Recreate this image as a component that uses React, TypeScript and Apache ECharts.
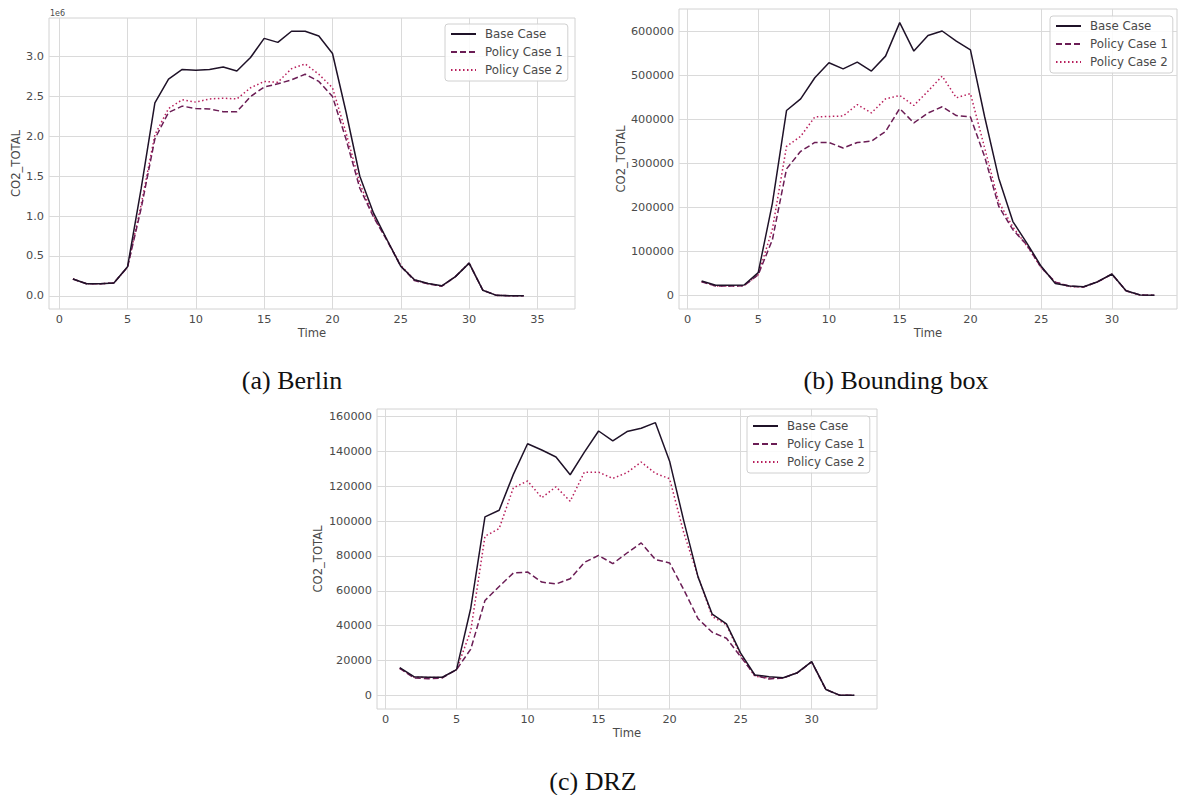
import React, { useEffect, useRef } from "react";
import * as echarts from "echarts";

// ---------- DATA ----------
const seriesNames = ["Base Case", "Policy Case 1", "Policy Case 2"];

const timeBerlin = [1, 2, 3, 4, 5, 6, 7, 8, 9, 10, 11, 12, 13, 14, 15, 16, 17, 18, 19, 20, 21, 22, 23, 24, 25, 26, 27, 28, 29, 30, 31, 32, 33, 34];
const berlinBase = [210000, 150000, 150000, 160000, 365000, 1350000, 2420000, 2720000, 2840000, 2830000, 2840000, 2870000, 2820000, 2990000, 3230000, 3180000, 3320000, 3320000, 3260000, 3040000, 2300000, 1500000, 1040000, 700000, 370000, 200000, 155000, 125000, 240000, 410000, 70000, 5000, 0, 0];
const berlinPolicy1 = [210000, 150000, 150000, 160000, 360000, 1100000, 1970000, 2300000, 2380000, 2350000, 2345000, 2310000, 2310000, 2500000, 2620000, 2660000, 2710000, 2780000, 2690000, 2500000, 1960000, 1350000, 990000, 690000, 370000, 190000, 150000, 120000, 240000, 410000, 70000, 5000, 0, 0];
const berlinPolicy2 = [210000, 150000, 150000, 160000, 360000, 1150000, 2020000, 2350000, 2460000, 2430000, 2470000, 2480000, 2470000, 2610000, 2690000, 2680000, 2850000, 2910000, 2780000, 2610000, 2040000, 1410000, 1000000, 700000, 380000, 200000, 150000, 120000, 240000, 410000, 70000, 5000, 0, 0];

const timeBox = [1, 2, 3, 4, 5, 6, 7, 8, 9, 10, 11, 12, 13, 14, 15, 16, 17, 18, 19, 20, 21, 22, 23, 24, 25, 26, 27, 28, 29, 30, 31, 32, 33];
const boxBase = [32600, 22800, 22800, 23500, 51600, 209000, 419500, 446000, 494000, 528000, 514000, 529500, 509000, 543000, 619000, 554500, 590000, 600000, 577000, 557000, 406000, 266000, 167500, 118000, 66000, 27000, 21000, 19600, 31000, 48500, 10500, 700, 0];
const boxPolicy1 = [31000, 21000, 21000, 22000, 47000, 126000, 287000, 327000, 347000, 347000, 334600, 347000, 350000, 372000, 424000, 391500, 414000, 428000, 408000, 405000, 315000, 202000, 149000, 114000, 63000, 30000, 21000, 19000, 31000, 48000, 10500, 1000, 0];
const boxPolicy2 = [31000, 21000, 21000, 22000, 47000, 150000, 338000, 361000, 405000, 406000, 407000, 433000, 414000, 446000, 453700, 431000, 463500, 497600, 448400, 458000, 335000, 212000, 155000, 112000, 63000, 30000, 20000, 19000, 31000, 48000, 10000, 500, 0];

const timeDrz = [1, 2, 3, 4, 5, 6, 7, 8, 9, 10, 11, 12, 13, 14, 15, 16, 17, 18, 19, 20, 21, 22, 23, 24, 25, 26, 27, 28, 29, 30, 31, 32, 33];
const drzBase = [15900, 10700, 10400, 10400, 14800, 50000, 102400, 106200, 126800, 144400, 140800, 136800, 126600, 139600, 151700, 146000, 151400, 153300, 156500, 134400, 100000, 68000, 46600, 41000, 24200, 11700, 10700, 10100, 13000, 19400, 3400, 0, 0];
const drzPolicy1 = [15500, 10000, 9500, 10000, 14800, 26500, 54400, 62500, 70200, 70800, 65000, 63900, 66900, 76300, 80300, 75600, 81700, 87500, 77900, 76000, 60600, 44000, 36200, 32800, 22200, 11500, 9400, 10000, 13000, 19200, 3400, 0, 0];
const drzPolicy2 = [15500, 10500, 10200, 10300, 14800, 37000, 91300, 95700, 119100, 123000, 113400, 119700, 111400, 128100, 128100, 124500, 127800, 133900, 127400, 124300, 93200, 68300, 45200, 40500, 23000, 11000, 10000, 10000, 13000, 19300, 3400, 0, 0];

const xTicksBerlin = [0, 5, 10, 15, 20, 25, 30, 35];
const xTicksOther = [0, 5, 10, 15, 20, 25, 30];
const yTicksBerlin = [0, 500000, 1000000, 1500000, 2000000, 2500000, 3000000];
const yTicksBox = [0, 100000, 200000, 300000, 400000, 500000, 600000];
const yTicksDrz = [0, 20000, 40000, 60000, 80000, 100000, 120000, 140000, 160000];

const captions = ["(a) Berlin", "(b) Bounding box", "(c) DRZ"];

// ---------- STYLE ----------
const lineColors = ["#1f1228", "#6b1d55", "#b81f5c"];
const lineTypes: any[] = ["solid", [6, 3], [1.5, 2.5]];
const textColor = "#4a4a4a";
const gridColor = "#dadada";
const font = "DejaVu Sans";

function mplLimits(values: number[][]) {
  let lo = Infinity;
  let hi = -Infinity;
  values.forEach((arr) => arr.forEach((v) => { if (v < lo) lo = v; if (v > hi) hi = v; }));
  const m = (hi - lo) * 0.05;
  return [lo - m, hi + m];
}

type Panel = {
  grid: { left: number; top: number; width: number; height: number };
  time: number[];
  values: number[][];
  xMin: number;
  xMax: number;
  xTicks: number[];
  yTicks: number[];
  yFmt: (v: number) => string;
  yNameGap: number;
  legend: { left: number; top: number };
};

const panels: Panel[] = [
  {
    grid: { left: 49, top: 18, width: 526, height: 291 },
    time: timeBerlin,
    values: [berlinBase, berlinPolicy1, berlinPolicy2],
    xMin: -0.75,
    xMax: 37.75,
    xTicks: xTicksBerlin,
    yTicks: yTicksBerlin,
    yFmt: (v) => (v / 1e6).toFixed(1),
    yNameGap: 27,
    legend: { left: 445, top: 24 },
  },
  {
    grid: { left: 679, top: 9, width: 498, height: 300 },
    time: timeBox,
    values: [boxBase, boxPolicy1, boxPolicy2],
    xMin: -0.6,
    xMax: 34.6,
    xTicks: xTicksOther,
    yTicks: yTicksBox,
    yFmt: (v) => String(v),
    yNameGap: 52,
    legend: { left: 1050, top: 16 },
  },
  {
    grid: { left: 377, top: 409, width: 500, height: 300 },
    time: timeDrz,
    values: [drzBase, drzPolicy1, drzPolicy2],
    xMin: -0.6,
    xMax: 34.6,
    xTicks: xTicksOther,
    yTicks: yTicksDrz,
    yFmt: (v) => String(v),
    yNameGap: 53,
    legend: { left: 747, top: 416 },
  },
];

function buildOption() {
  const grid: any[] = [];
  const xAxis: any[] = [];
  const yAxis: any[] = [];
  const series: any[] = [];
  const legend: any[] = [];

  panels.forEach((p, gi) => {
    grid.push({
      ...p.grid,
      show: true,
      borderColor: "#d2d2d2",
      borderWidth: 1,
      backgroundColor: "transparent",
      containLabel: false,
    });
    xAxis.push({
      gridIndex: gi,
      type: "value",
      min: p.xMin,
      max: p.xMax,
      axisLine: { show: false },
      axisTick: { show: false, customValues: p.xTicks },
      axisLabel: { customValues: p.xTicks, margin: 5, color: textColor, fontSize: 11.3, fontFamily: font },
      splitLine: { show: true, lineStyle: { color: gridColor, width: 1 } },
      name: "Time",
      nameLocation: "middle",
      nameGap: 18,
      nameTextStyle: { color: textColor, fontSize: 11.6, fontFamily: font, verticalAlign: "top" },
    });
    const [yMin, yMax] = mplLimits(p.values);
    yAxis.push({
      gridIndex: gi,
      type: "value",
      min: yMin,
      max: yMax,
      axisLine: { show: false },
      axisTick: { show: false, customValues: p.yTicks },
      axisLabel: { customValues: p.yTicks, margin: 5, color: textColor, fontSize: 11.3, fontFamily: font, formatter: p.yFmt },
      splitLine: { show: true, lineStyle: { color: gridColor, width: 1 } },
      name: "CO2_TOTAL",
      nameLocation: "middle",
      nameRotate: 90,
      nameGap: p.yNameGap,
      nameTextStyle: { color: textColor, fontSize: 11.6, fontFamily: font },
    });
    p.values.forEach((vals, si) => {
      series.push({
        type: "line",
        name: seriesNames[si],
        xAxisIndex: gi,
        yAxisIndex: gi,
        data: p.time.map((t, i) => [t, vals[i]]),
        symbol: "none",
        showSymbol: false,
        color: lineColors[si],
        lineStyle: { color: lineColors[si], width: 1.5, type: lineTypes[si] },
        z: 3 - si,
      });
    });
    legend.push({
      left: p.legend.left,
      top: p.legend.top,
      orient: "vertical",
      data: seriesNames,
      itemWidth: 25,
      itemHeight: 10,
      itemGap: 4,
      padding: [3, 5, 4, 5],
      borderColor: "#d0d0d0",
      borderWidth: 1,
      borderRadius: 3,
      backgroundColor: "rgba(255,255,255,0.85)",
      selectedMode: false,
      itemStyle: { opacity: 0, borderWidth: 0 },
      textStyle: { color: textColor, fontSize: 11.8, fontFamily: font, lineHeight: 14, padding: [0, 0, 0, 4] },
    });
  });

  const graphic: any[] = [
    {
      type: "text",
      left: 50,
      top: 9,
      style: { text: "1e6", fill: textColor, font: `8px "${font}"` },
    },
    {
      type: "text",
      x: 292,
      y: 380,
      style: { text: captions[0], fill: "#111", font: `26px "Liberation Serif"`, textAlign: "center", textVerticalAlign: "middle" },
    },
    {
      type: "text",
      x: 896,
      y: 380,
      style: { text: captions[1], fill: "#111", font: `26px "Liberation Serif"`, textAlign: "center", textVerticalAlign: "middle" },
    },
    {
      type: "text",
      x: 593,
      y: 781,
      style: { text: captions[2], fill: "#111", font: `26px "Liberation Serif"`, textAlign: "center", textVerticalAlign: "middle" },
    },
  ];

  return {
    animation: false,
    backgroundColor: "#ffffff",
    grid,
    xAxis,
    yAxis,
    series,
    legend,
    graphic,
  };
}

export default function App() {
  const ref = useRef<HTMLDivElement>(null);
  useEffect(() => {
    if (!ref.current) return;
    const chart = echarts.init(ref.current, null, { renderer: "svg" });
    chart.setOption(buildOption() as any);
    return () => chart.dispose();
  }, []);
  return (
    <div
      ref={ref}
      style={{ position: "absolute", left: 0, top: 0, width: 1179, height: 795, background: "#fff" }}
    />
  );
}
